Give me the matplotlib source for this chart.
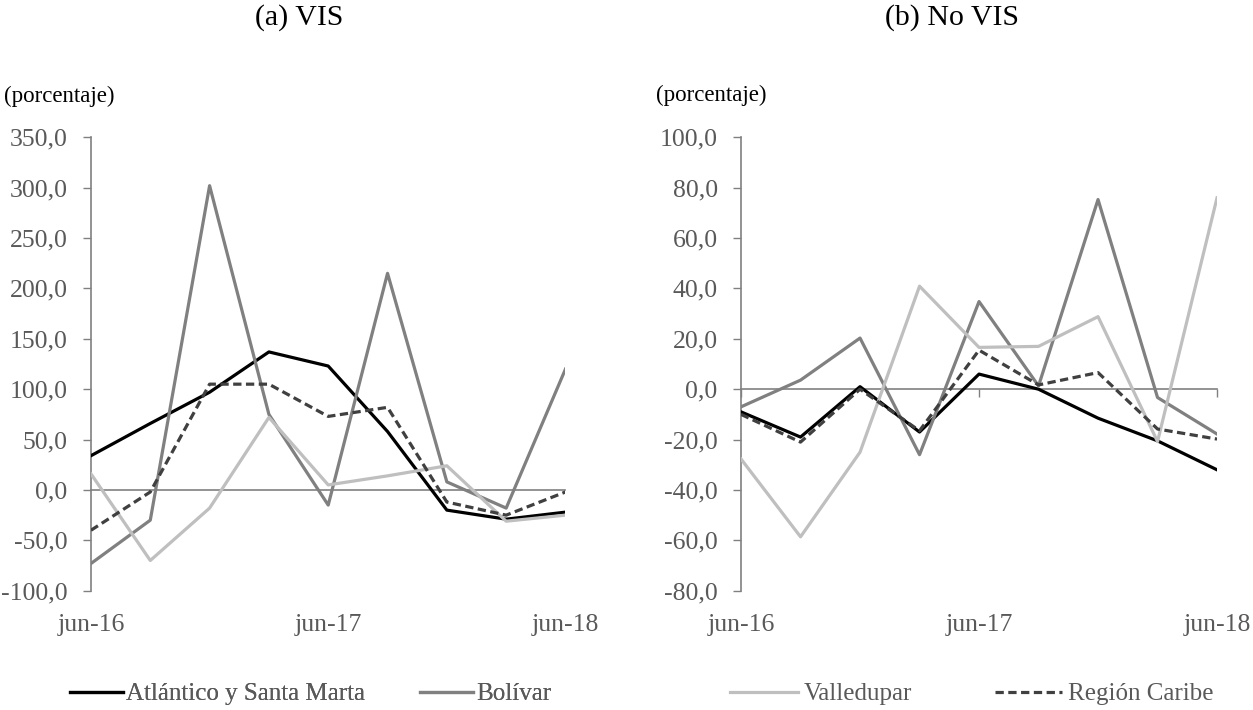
import matplotlib
matplotlib.use("Agg")
import matplotlib.pyplot as plt
from matplotlib.ticker import FuncFormatter

plt.rcParams['font.family'] = ['Liberation Serif', 'DejaVu Serif']

periods = ['jun-16', 'sep-16', 'dic-16', 'mar-17', 'jun-17', 'sep-17', 'dic-17', 'mar-18', 'jun-18']
tick_pos = [0, 4, 8]
tick_labels = ['jun-16', 'jun-17', 'jun-18']

series_names = ['Atlántico y Santa Marta', 'Bolívar', 'Valledupar', 'Región Caribe']

# (a) VIS
vis_atlantico = [34, 66, 97, 137, 123, 58, -20, -29, -22]
vis_bolivar = [-73, -30, 302, 75, -15, 215, 8, -18, 120]
vis_valledupar = [16, -70, -18, 72, 5, 14, 24, -31, -25]
vis_caribe = [-40, -2, 105, 105, 73, 82, -12, -25, -2]

# (b) No VIS
novis_atlantico = [-9, -19, 1, -17, 6, 0, -11.5, -20.5, -32]
novis_bolivar = [-7, 3.6, 20.3, -26, 34.8, 1.3, 75.3, -3.3, -17.8]
novis_valledupar = [-27.7, -58.6, -25, 40.9, 16.6, 17, 28.8, -20.8, 76]
novis_caribe = [-10, -21, 0, -16.5, 15.5, 1.7, 6.6, -15.8, -19.8]

colors = ['#000000', '#808080', '#bfbfbf', '#404040']
styles = ['-', '-', '-', (0, (2.6, 1.4))]
axis_gray = '#808080'
text_gray = '#595959'

fig = plt.figure(figsize=(12.53, 7.10), dpi=100)
ax1 = fig.add_axes([0.0726, 0.168, 0.3787, 0.6386])
ax2 = fig.add_axes([0.5914, 0.168, 0.3799, 0.6386])


def comma_fmt(v, pos):
    return f"{v:.1f}".replace('.', ',')


def setup(ax, data, ylim, ystep, zero_ticks):
    x = list(range(len(periods)))
    lines = []
    for vals, c, ls, name in zip(data, colors, styles, series_names):
        ln, = ax.plot(x, vals, color=c, linestyle=ls, lw=2.3, label=name, zorder=3)
        lines.append(ln)
    ax.set_xlim(0, 8)
    ax.set_ylim(*ylim)
    ax.set_yticks(list(range(ylim[0], ylim[1] + 1, ystep)))
    ax.yaxis.set_major_formatter(FuncFormatter(comma_fmt))
    ax.set_xticks(tick_pos, tick_labels)
    ax.tick_params(axis='x', length=0, pad=17, labelsize=18.5, labelcolor=text_gray)
    ax.tick_params(axis='y', length=5.8, width=1, color=axis_gray, pad=11,
                   labelsize=18.5, labelcolor=text_gray)
    for s in ['top', 'right', 'bottom']:
        ax.spines[s].set_visible(False)
    ax.spines['left'].set_color(axis_gray)
    ax.spines['left'].set_linewidth(1.2)
    # horizontal axis line at zero
    loc = (0 - ylim[0]) / (ylim[1] - ylim[0])
    sec = ax.secondary_xaxis(loc)
    sec.set_xticks(tick_pos if zero_ticks else [])
    sec.set_xticklabels([])
    sec.tick_params(length=5.8, width=1, color=axis_gray, direction='out')
    sec.spines['bottom'].set_color(axis_gray)
    sec.spines['bottom'].set_linewidth(1.2)
    sec.spines['bottom'].set_zorder(1)
    return lines


lines1 = setup(ax1, [vis_atlantico, vis_bolivar, vis_valledupar, vis_caribe], (-100, 350), 50, False)
lines2 = setup(ax2, [novis_atlantico, novis_bolivar, novis_valledupar, novis_caribe], (-80, 100), 20, True)

fig.text(0.2386, 0.976, '(a) VIS', ha='center', va='center', fontsize=21.5, color='black')
fig.text(0.7598, 0.976, '(b) No VIS', ha='center', va='center', fontsize=21.5, color='black')
fig.text(4 / 1253, 1 - 96 / 710, '(porcentaje)', ha='left', va='center', fontsize=16.5, color='black')
fig.text(656 / 1253, 1 - 95 / 710, '(porcentaje)', ha='left', va='center', fontsize=16.5, color='black')

leg1 = fig.legend(lines1[:2], series_names[:2], loc='center left',
                  bbox_to_anchor=(70 / 1253, 1 - 694 / 710), ncol=2, frameon=False,
                  fontsize=18, handlelength=2.1, handletextpad=0.15, columnspacing=2.2,
                  borderpad=0, borderaxespad=0, labelcolor=text_gray)
leg2 = fig.legend(lines1[2:], series_names[2:], loc='center left',
                  bbox_to_anchor=(730 / 1253, 1 - 694 / 710), ncol=2, frameon=False,
                  fontsize=18, handlelength=2.7, handletextpad=0.25, columnspacing=3.3,
                  borderpad=0, borderaxespad=0, labelcolor=text_gray)
fig.add_artist(leg1)

fig.savefig('out.png', dpi=100)
